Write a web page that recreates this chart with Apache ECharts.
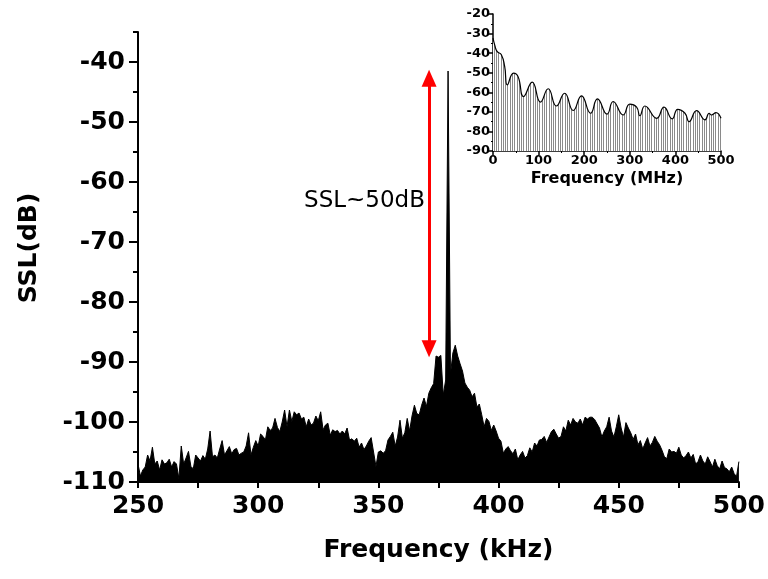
<!DOCTYPE html>
<html><head><meta charset="utf-8">
<script src="https://cdn.jsdelivr.net/npm/echarts@6/dist/echarts.min.js"></script>
<style>html,body{margin:0;padding:0;background:#fff}#c{width:768px;height:579px}</style>
</head><body><div id="c"></div>
<script>
// ---- main spectrum: SSL (dB) at 1 kHz steps starting from 250 kHz ----
const freqStart = 250;
const freqStep = 1;
const sslMain = [
 -107,-109,-108,-107.5,-105.5,-106.5,-104.2,-107,-106.5,-108,
 -106.3,-107,-106.8,-106.2,-107.5,-106.6,-107,-109.4,-104,-107,
 -106,-104.9,-107.4,-107.8,-105.5,-106,-106.5,-105.6,-106.2,-104.5,
 -101.5,-105.8,-105.5,-106,-104.5,-103.1,-105.5,-104.8,-104.1,-105.3,
 -104.6,-104.4,-105.5,-105.2,-105,-104,-101.8,-105.5,-104.2,-103.1,
 -104,-102,-102.4,-103,-100.8,-101.4,-101,-99.4,-100.9,-101.6,
 -100,-98,-100.8,-98,-99.9,-98.3,-98.8,-98.5,-99.5,-99.2,
 -100.8,-99.5,-100.5,-100.2,-99,-99.8,-98.3,-101.3,-100.5,-100.2,
 -102.2,-101.3,-101.6,-101.4,-102,-101.5,-102,-101,-103,-102.8,
 -103.2,-102.7,-104.2,-103.5,-104.6,-104,-103.2,-102.6,-105,-107.4,
 -105,-104.8,-105.2,-104.8,-103,-102.4,-101.7,-104,-102.5,-99.7,
 -102.7,-101.8,-99.4,-101.5,-99,-97.2,-98.6,-98.8,-97.2,-96,
 -97.4,-95.2,-94.3,-93.6,-89,-89.2,-88.9,-95.5,-93,-41.5,
 -92,-88.5,-87.2,-89,-90.3,-91.5,-93.5,-94.2,-94.7,-95.8,
 -95.2,-97.5,-97,-98.8,-100.8,-99.4,-99.9,-101.4,-100.5,-101.5,
 -102.7,-103.2,-105.2,-104.5,-104.1,-104.8,-105.3,-104.5,-106.3,-105.5,
 -104.9,-106,-105.6,-104.3,-105,-103.5,-104,-103,-102.9,-102.4,
 -103.4,-102.5,-101.6,-101.2,-102,-102.7,-102.4,-100.8,-101.5,-99.7,
 -100.5,-99.4,-100,-100.2,-99.5,-100.5,-99.2,-99.5,-99.2,-99.2,
 -99.6,-100.3,-101,-102.5,-101.5,-100.8,-99.2,-101.5,-102.5,-100.8,
 -98.8,-101,-102.5,-100.1,-101,-101.8,-102.9,-102,-103.8,-103.1,
 -104.5,-103.5,-102.6,-104,-103.4,-102.4,-103.2,-103.8,-104.7,-105.8,
 -106.1,-104.5,-105,-104.9,-105.2,-104.2,-105.5,-106,-105.6,-105,
 -106,-105.4,-107,-106.6,-105.5,-106.5,-107,-105.8,-106.6,-107.5,
 -106.2,-107.3,-107.8,-106.5,-107.6,-107.8,-108.3,-107.5,-108.6,-109.1,-106.6
];

// ---- inset: envelope (MHz, dB) ----
const insetFreq = [0,4,8.8,18.3,25.6,31.5,45,55,67,86,104,121,139,157,176,194,214,229,250,263.5,285.5,300,315,322,333,359,375,393,405,421,430,446.5,465,474,479,489,500];
const insetSSL  = [-32.3,-36,-39.1,-40.8,-46.8,-56.2,-50.2,-52,-62.2,-54.8,-65,-58.2,-67,-60.5,-69.3,-61.8,-70.7,-63.4,-71.2,-64.7,-71.6,-66.1,-67.6,-72,-67,-73.3,-67.6,-73.6,-68.7,-70.7,-75,-69.4,-74.1,-70.7,-71.6,-70.4,-73.3];

// ---- annotation (arrowhead centres) ----
const arrowFreq = 371.1;
const arrowTop = -42.7;
const arrowBottom = -87.8;
const annoText = 'SSL~50dB';
const annoPos = [369.4, -63.2];

const FONT = 'DejaVu Sans';
const mainData = sslMain.map((v, i) => [freqStart + i * freqStep, v]);
const insetData = insetFreq.map((f, i) => [f, insetSSL[i]]);

// vertical stem pattern for the inset
const pc = document.createElement('canvas');
pc.width = 16; pc.height = 4;
const g = pc.getContext('2d');
g.fillStyle = '#ffffff'; g.fillRect(0, 0, 16, 4);
g.strokeStyle = '#8a8a8a'; g.lineWidth = 1;
for (let i = 0; i < 7; i++) {
  const x = Math.round(i * 16 / 7) + 0.5;
  g.beginPath(); g.moveTo(x, 0); g.lineTo(x, 4); g.stroke();
}

const bold = (size) => ({ color: '#000', fontFamily: FONT, fontWeight: 'bold', fontSize: size });

const chart = echarts.init(document.getElementById('c'), null, { renderer: 'canvas' });
chart.setOption({
  animation: false,
  backgroundColor: '#fff',
  grid: [
    { left: 138, right: 27, top: 32, bottom: 97 },
    { left: 138, right: 27, top: 62, bottom: 97 },
    { left: 493, right: 47, top: 14, bottom: 428 }
  ],
  xAxis: [
    {
      gridIndex: 0, type: 'value', min: 250, max: 500, interval: 25,
      axisLine: { lineStyle: { color: '#000', width: 2 } },
      axisTick: { length: 6, lineStyle: { color: '#000', width: 2 } },
      splitLine: { show: false },
      axisLabel: Object.assign(bold(25), { margin: 12, formatter: v => (v % 50 === 0 ? String(v) : '') }),
      name: 'Frequency (kHz)', nameLocation: 'middle', nameGap: 56,
      nameTextStyle: bold(25)
    },
    { gridIndex: 1, type: 'value', min: 0, max: 1, show: false },
    {
      gridIndex: 2, type: 'value', min: 0, max: 500, interval: 100,
      axisLine: { lineStyle: { color: '#000', width: 1.5 } },
      axisTick: { length: 4, lineStyle: { color: '#000', width: 1.5 } },
      minorTick: { show: true, splitNumber: 2, length: 2, lineStyle: { color: '#000' } },
      splitLine: { show: false },
      axisLabel: Object.assign(bold(13), { margin: 3 }),
      name: 'Frequency (MHz)', nameLocation: 'middle', nameGap: 20,
      nameTextStyle: bold(16)
    }
  ],
  yAxis: [
    {
      gridIndex: 0, type: 'value', min: -110, max: -35, interval: 5,
      axisLine: { show: true, lineStyle: { color: '#000', width: 2 } },
      axisTick: { show: true, length: 5, lineStyle: { color: '#000', width: 2 } },
      splitLine: { show: false },
      axisLabel: { show: false },
      name: 'SSL(dB)', nameLocation: 'middle', nameGap: 96,
      nameTextStyle: Object.assign(bold(25), { padding: [0, 0, 0, 18] })
    },
    {
      gridIndex: 1, type: 'value', min: -110, max: -40, interval: 10,
      axisLine: { show: false },
      axisTick: { show: true, length: 9, lineStyle: { color: '#000', width: 2 } },
      splitLine: { show: false },
      axisLabel: Object.assign(bold(25), { margin: 13 })
    },
    {
      gridIndex: 2, type: 'value', min: -90, max: -20, interval: 10,
      axisLine: { show: true, lineStyle: { color: '#000', width: 1.5 } },
      axisTick: { show: true, length: 4, lineStyle: { color: '#000', width: 1.5 } },
      minorTick: { show: true, splitNumber: 2, length: 2, lineStyle: { color: '#000' } },
      splitLine: { show: false },
      axisLabel: Object.assign(bold(13), { margin: 3 })
    }
  ],
  series: [
    {
      type: 'line', xAxisIndex: 0, yAxisIndex: 0, data: mainData,
      symbol: 'none', silent: true,
      lineStyle: { color: '#000', width: 1 },
      itemStyle: { color: '#000' },
      areaStyle: { color: '#000', opacity: 1, origin: 'start' },
      markLine: {
        silent: true, symbol: ['triangle', 'triangle'], symbolSize: [15, 17],
        lineStyle: { color: '#ff0000', width: 3, type: 'solid' },
        itemStyle: { color: '#ff0000' },
        label: { show: false },
        data: [[{ coord: [arrowFreq, arrowTop] }, { coord: [arrowFreq, arrowBottom] }]]
      },
      markPoint: {
        silent: true, symbol: 'circle', symbolSize: 0,
        label: { show: true, position: 'left', distance: 0, formatter: annoText, color: '#000', fontFamily: FONT, fontSize: 23 },
        data: [{ coord: annoPos }]
      }
    },
    {
      type: 'line', xAxisIndex: 2, yAxisIndex: 2, data: insetData,
      symbol: 'none', silent: true, smooth: 0.5,
      lineStyle: { color: '#000', width: 1.2 },
      areaStyle: { color: { image: pc, repeat: 'repeat' }, opacity: 1, origin: 'start' }
    }
  ]
});
</script>
</body></html>
